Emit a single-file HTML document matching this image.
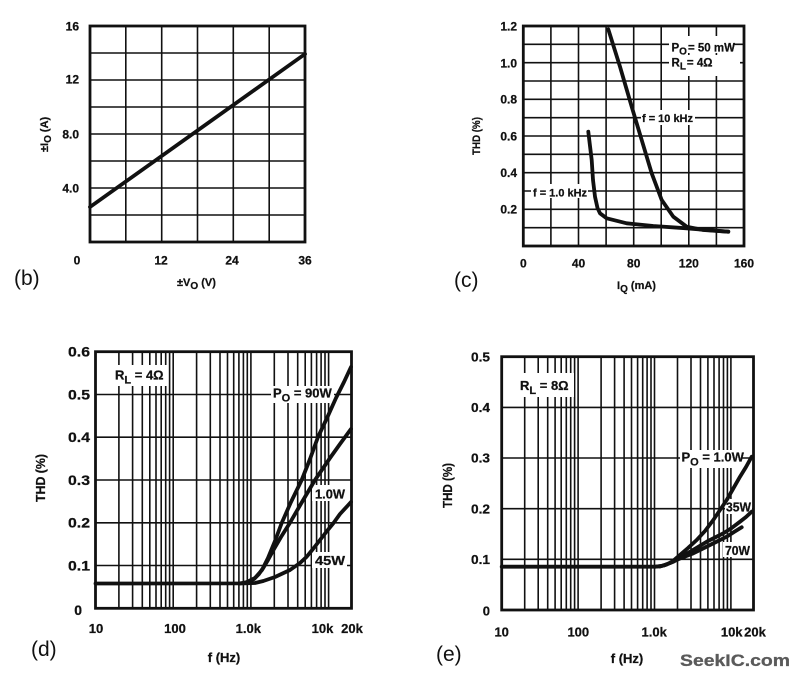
<!DOCTYPE html>
<html><head><meta charset="utf-8"><style>
html,body{margin:0;padding:0;background:#fff}
svg{display:block}
text{font-family:"Liberation Sans",Arial,sans-serif;font-weight:bold;fill:#111;stroke:#111;stroke-width:0.25}
.g{stroke:#111;stroke-width:1.6;fill:none}
.f{stroke:#111;stroke-width:2.8;fill:none}
.c{stroke:#111;stroke-width:3.8;fill:none;stroke-linejoin:round;stroke-linecap:round}
.p{font-weight:normal;font-size:21px;stroke-width:0}
</style></head><body>
<svg width="800" height="677" viewBox="0 0 800 677" xmlns="http://www.w3.org/2000/svg">
<rect x="0" y="0" width="800" height="677" fill="#fff"/>

<!-- ============ (b) ============ -->
<path class="g" d="M125.8 26V242M161.7 26V242M197.5 26V242M233.3 26V242M269.2 26V242
M90 53H305M90 80H305M90 107H305M90 134H305M90 161H305M90 188H305M90 215H305"/>
<rect class="f" x="90" y="26" width="215" height="216"/>
<path class="c" d="M90 207L305 54"/>
<g font-size="12" text-anchor="end">
<text x="79" y="30.3">16</text>
<text x="79" y="83.3">12</text>
<text x="79" y="138.3">8.0</text>
<text x="79" y="192.3">4.0</text>
</g>
<g font-size="12" text-anchor="middle">
<text x="77" y="264.3">0</text>
<text x="161" y="264.3">12</text>
<text x="232" y="264.3">24</text>
<text x="305" y="264.3">36</text>
</g>
<text font-size="11" transform="translate(48,152) rotate(-90)">±I<tspan font-size="10" dy="3">O</tspan><tspan dy="-3"> (A)</tspan></text>
<text font-size="11" x="177" y="286">±V<tspan font-size="10" dy="3">O</tspan><tspan dy="-3"> (V)</tspan></text>
<text class="p" x="14" y="285">(b)</text>

<!-- ============ (c) ============ -->
<path class="g" d="M550.9 26V246M578.5 26V246M606.1 26V246M633.7 26V246M661.2 26V246M688.8 26V246M716.4 26V246
M523.3 44.3H744M523.3 62.7H744M523.3 81H744M523.3 99.3H744M523.3 117.7H744M523.3 136H744M523.3 154.3H744M523.3 172.7H744M523.3 191H744M523.3 209.3H744M523.3 227.7H744"/>
<rect x="669" y="36" width="64" height="17" fill="#fff"/>
<rect x="669" y="55" width="71" height="21" fill="#fff"/>
<rect x="641" y="110" width="54" height="15" fill="#fff"/>
<rect x="531" y="184" width="57" height="14" fill="#fff"/>
<rect class="f" x="523.3" y="26" width="220.7" height="220"/>
<polyline class="c" points="608.3,29.3 620,66.7 631.7,106.7 641.7,140 651.7,173.3 661.7,200 673.3,216.7 686.7,226.7 703.3,230 728.3,231.7"/>
<polyline class="c" points="588.3,131.7 590,146 591.7,160 593,180 595,196.7 597.5,208 600,213.3 606.7,218.3 626.7,223.3 653.3,226 686.7,228.3 728.3,231.7"/>
<g font-size="12" text-anchor="end">
<text x="517" y="30.3">1.2</text>
<text x="517" y="67.3">1.0</text>
<text x="517" y="103.6">0.8</text>
<text x="517" y="140.3">0.6</text>
<text x="517" y="177">0.4</text>
<text x="517" y="213.6">0.2</text>
</g>
<g font-size="12" text-anchor="middle">
<text x="523.3" y="267.6">0</text>
<text x="578.5" y="267.6">40</text>
<text x="633.7" y="267.6">80</text>
<text x="688.8" y="267.6">120</text>
<text x="744" y="267.6">160</text>
</g>
<text font-size="11.5" x="671.5" y="51.5">P<tspan font-size="10" dy="3">O</tspan><tspan dy="-3" dx="1">= 50 mW</tspan></text>
<text font-size="11.5" x="671.5" y="66.5">R<tspan font-size="10" dy="3">L</tspan><tspan dy="-3" dx="1">= 4Ω</tspan></text>
<text font-size="11" x="642" y="122" textLength="51" lengthAdjust="spacingAndGlyphs">f = 10 kHz</text>
<text font-size="11" x="533" y="196.5" textLength="54" lengthAdjust="spacingAndGlyphs">f = 1.0 kHz</text>
<text font-size="11" transform="translate(480,155) rotate(-90)" textLength="38" lengthAdjust="spacingAndGlyphs">THD (%)</text>
<text font-size="11" x="617" y="289">I<tspan font-size="10" dy="3">Q</tspan><tspan dy="-3"> (mA)</tspan></text>
<text class="p" x="454" y="287">(c)</text>

<!-- ============ (d) ============ -->
<path class="g" stroke-width="1.5" d="M118.9 351.7V608.3M132.6 351.7V608.3M142.3 351.7V608.3M149.8 351.7V608.3M156 351.7V608.3M161.2 351.7V608.3M165.7 351.7V608.3M169.6 351.7V608.3M173.2 351.7V608.3
M196.6 351.7V608.3M210.3 351.7V608.3M220 351.7V608.3M227.5 351.7V608.3M233.7 351.7V608.3M238.9 351.7V608.3M243.4 351.7V608.3M247.3 351.7V608.3M250.9 351.7V608.3
M274.3 351.7V608.3M288 351.7V608.3M297.7 351.7V608.3M305.2 351.7V608.3M311.4 351.7V608.3M316.6 351.7V608.3M321.1 351.7V608.3M325 351.7V608.3M328.6 351.7V608.3
M95.5 394.5H351.5M95.5 437.2H351.5M95.5 480H351.5M95.5 522.8H351.5M95.5 565.5H351.5"/>
<rect x="111" y="365" width="56" height="21" fill="#fff"/>
<rect x="271" y="386" width="63" height="17" fill="#fff"/>
<rect x="312" y="485" width="35" height="16" fill="#fff"/>
<rect x="312" y="552" width="35" height="16" fill="#fff"/>
<rect class="f" x="95.5" y="351.7" width="256" height="256.6"/>
<polyline class="c" points="95.5,583.5 240,583.4 248,582 254,579 259,574 263,568 268,558 275,541 281.7,523 291,502 301.7,480 310,459 318,437 327,418 336,398 344,382 351,367"/>
<polyline class="c" points="245,583 255,578 262,570 268,560 274,549 281,537 290,522.7 302,502 315,480 330,458 340,444 351,429"/>
<polyline class="c" points="240,583.5 255,583 263.3,581 275,577 290,570 300,563 306.7,556.7 313,549 320,540 327,531 333.3,523.3 340,514 348.3,505 351,502"/>
<g font-size="14" text-anchor="end">
<text x="90" y="356.5" textLength="22" lengthAdjust="spacingAndGlyphs">0.6</text>
<text x="90" y="399.3" textLength="22" lengthAdjust="spacingAndGlyphs">0.5</text>
<text x="90" y="442" textLength="22" lengthAdjust="spacingAndGlyphs">0.4</text>
<text x="90" y="484.8" textLength="22" lengthAdjust="spacingAndGlyphs">0.3</text>
<text x="90" y="527.6" textLength="22" lengthAdjust="spacingAndGlyphs">0.2</text>
<text x="90" y="570.3" textLength="22" lengthAdjust="spacingAndGlyphs">0.1</text>
<text x="82" y="615">0</text>
</g>
<g font-size="13" text-anchor="middle">
<text x="96" y="633">10</text>
<text x="175" y="633">100</text>
<text x="248.3" y="633">1.0k</text>
<text x="322.5" y="633">10k</text>
<text x="352" y="633">20k</text>
</g>
<text font-size="13" x="115" y="379.5">R<tspan font-size="11" dy="4">L</tspan><tspan dy="-4"> = 4Ω</tspan></text>
<text font-size="13" x="273" y="397.5">P<tspan font-size="11" dy="4">O</tspan><tspan dy="-4"> = 90W</tspan></text>
<text font-size="13" x="315" y="498.5" textLength="30" lengthAdjust="spacingAndGlyphs">1.0W</text>
<text font-size="13" x="315" y="565" textLength="30" lengthAdjust="spacingAndGlyphs">45W</text>
<text font-size="13" transform="translate(45,502) rotate(-90)" textLength="48" lengthAdjust="spacingAndGlyphs">THD (%)</text>
<text font-size="13" x="224" y="662" text-anchor="middle">f (Hz)</text>
<text class="p" x="31" y="656">(d)</text>

<!-- ============ (e) ============ -->
<path class="g" stroke-width="1.5" d="M524.7 356.7V610M538.2 356.7V610M547.7 356.7V610M555.1 356.7V610M561.2 356.7V610M566.3 356.7V610M570.7 356.7V610M574.6 356.7V610M578.1 356.7V610
M601.1 356.7V610M614.6 356.7V610M624.1 356.7V610M631.5 356.7V610M637.6 356.7V610M642.7 356.7V610M647.1 356.7V610M651 356.7V610M654.5 356.7V610
M677.5 356.7V610M691 356.7V610M700.5 356.7V610M707.9 356.7V610M714 356.7V610M719.1 356.7V610M723.5 356.7V610M727.4 356.7V610M730.9 356.7V610
M501.7 407.4H753.5M501.7 458H753.5M501.7 508.7H753.5M501.7 559.3H753.5"/>
<rect x="516" y="373" width="58" height="24" fill="#fff"/>
<rect x="680" y="450" width="62" height="18" fill="#fff"/>
<rect x="725" y="499" width="27" height="15" fill="#fff"/>
<rect x="723" y="542" width="29" height="15" fill="#fff"/>
<rect class="f" x="501.7" y="356.7" width="251.8" height="253.3"/>
<polyline class="c" points="501.7,566.7 655,566.7 661,566.2 666.7,564.5 673,561 680,555 688,548 696.7,540 705,531 713.3,520 720,510 726.7,500 733,489 740,476.7 746,467 751.7,456.7"/>
<polyline class="c" points="655,566.7 664,565.5 673.3,561.7 681,557 690,551.7 698,547 706.7,541.7 715,537.5 723.3,533.3 731,528.5 740,521.7 746,517 751.7,511.7"/>
<polyline class="c" points="660,566.5 670,563 680,558.5 693.3,553.3 702,549 710,545 718,541 726.7,536.7 734,532 741.7,527.3"/>
<g font-size="13" text-anchor="end">
<text x="490" y="361.3" textLength="19" lengthAdjust="spacingAndGlyphs">0.5</text>
<text x="490" y="412" textLength="19" lengthAdjust="spacingAndGlyphs">0.4</text>
<text x="490" y="462.6" textLength="19" lengthAdjust="spacingAndGlyphs">0.3</text>
<text x="490" y="513.3" textLength="19" lengthAdjust="spacingAndGlyphs">0.2</text>
<text x="490" y="564" textLength="19" lengthAdjust="spacingAndGlyphs">0.1</text>
<text x="490" y="615.5">0</text>
</g>
<g font-size="13" text-anchor="middle">
<text x="501.7" y="636.5">10</text>
<text x="578.3" y="636.5">100</text>
<text x="654.2" y="636.5">1.0k</text>
<text x="731.7" y="636.5">10k</text>
<text x="755" y="636.5">20k</text>
</g>
<text font-size="13" x="520" y="390">R<tspan font-size="11" dy="4">L</tspan><tspan dy="-4"> = 8Ω</tspan></text>
<text font-size="13" x="681.5" y="461.5">P<tspan font-size="11" dy="4">O</tspan><tspan dy="-4"> = 1.0W</tspan></text>
<text font-size="13" x="726" y="511.7" textLength="25" lengthAdjust="spacingAndGlyphs">35W</text>
<text font-size="13" x="725" y="555" textLength="25" lengthAdjust="spacingAndGlyphs">70W</text>
<text font-size="13" transform="translate(452,508) rotate(-90)" textLength="45" lengthAdjust="spacingAndGlyphs">THD (%)</text>
<text font-size="13" x="627" y="663" text-anchor="middle">f (Hz)</text>
<text class="p" x="436" y="661">(e)</text>

<text x="680" y="666" font-size="17" textLength="110" lengthAdjust="spacingAndGlyphs" style="fill:#5a5a5a;stroke:#5a5a5a;stroke-width:0.3">SeekIC.com</text>
</svg>
</body></html>
